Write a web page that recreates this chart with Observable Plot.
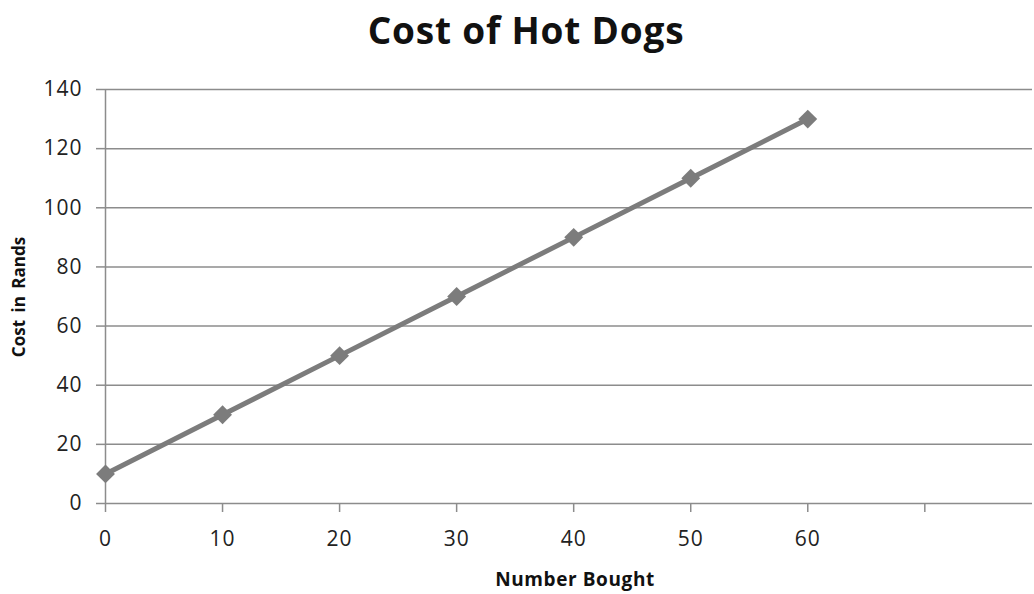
<!DOCTYPE html>
<html>
<head>
<meta charset="utf-8">
<script src="https://cdn.jsdelivr.net/npm/d3@7"></script>
<script src="https://cdn.jsdelivr.net/npm/@observablehq/plot@0.6"></script>
<style>
  html, body { margin: 0; padding: 0; background: #fff; }
  #wrap { position: relative; width: 1034px; height: 594px; }
  #title { position: absolute; left: 0; top: 4px; width: 1052px; text-align: center;
    font-family: "Open Sans", sans-serif; font-weight: 700; font-size: 37px; letter-spacing: 0.8px; color: #111; }
  #ylab { position: absolute; left: 18px; top: 297px; transform: translate(-50%, -50%) rotate(-90deg);
    font-family: "Open Sans", sans-serif; font-weight: 700; font-size: 17px; word-spacing: 3px; color: #111; white-space: nowrap; }
  #xlab { position: absolute; left: 575px; top: 579px; transform: translate(-50%, -50%);
    font-family: "Open Sans", sans-serif; font-weight: 700; font-size: 19px; letter-spacing: 0.6px; color: #111; white-space: nowrap; }
</style>
</head>
<body>
<div id="wrap">
  <div id="chart"></div>
  <div id="title">Cost of Hot Dogs</div>
  <div id="ylab">Cost in Rands</div>
  <div id="xlab">Number Bought</div>
</div>
<script>
const numberBought = [0, 10, 20, 30, 40, 50, 60];
const costRands = [10, 30, 50, 70, 90, 110, 130];
const yTicks = [0, 20, 40, 60, 80, 100, 120, 140];
const xTicks = [0, 10, 20, 30, 40, 50, 60, 70];
const xLabelMax = 60;

const data = numberBought.map((n, i) => ({n, c: costRands[i]}));
const gridColor = "#8c8c8c";
const lineColor = "#7c7c7c";

const chart = Plot.plot({
  width: 1034,
  height: 594,
  marginLeft: 105,
  marginRight: 2,
  marginTop: 89,
  marginBottom: 91,
  style: {fontFamily: "Open Sans, sans-serif", fontSize: "21px", color: "#222", background: "#fff", letterSpacing: "1px"},
  x: {domain: [0, 79.2]},
  y: {domain: [0, 140]},
  marks: [
    Plot.gridY(yTicks, {stroke: gridColor, strokeOpacity: 1, strokeWidth: 1.5}),
    Plot.ruleX([0], {stroke: gridColor, strokeWidth: 1.5}),
    Plot.axisY(yTicks, {tickSize: 9, tickPadding: 14, stroke: gridColor, strokeWidth: 1.5, label: null, fill: "#222"}),
    Plot.axisX(xTicks, {tickSize: 9, tickPadding: 19, stroke: gridColor, strokeWidth: 1.5, label: null, fill: "#222",
      tickFormat: d => d <= xLabelMax ? String(d) : ""}),
    Plot.line(data, {x: "n", y: "c", stroke: lineColor, strokeWidth: 5}),
    Plot.dot(data, {x: "n", y: "c", symbol: "diamond2", r: 8.5, fill: lineColor, stroke: "none"})
  ]
});
document.getElementById("chart").appendChild(chart);
</script>
</body>
</html>
